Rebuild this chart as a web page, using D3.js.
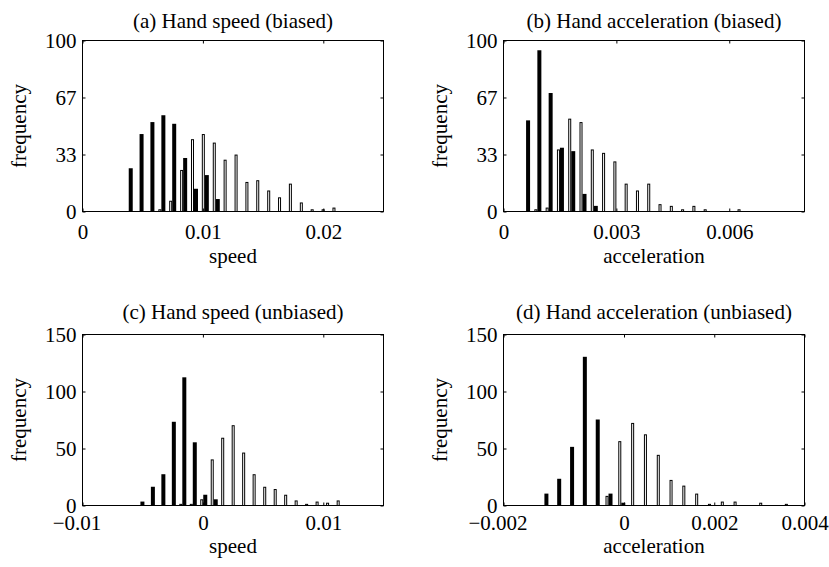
<!DOCTYPE html>
<html>
<head>
<meta charset="utf-8">
<script src="https://cdn.jsdelivr.net/npm/d3@7"></script>
<style>
  html, body { margin: 0; padding: 0; background: #fff; }
  svg { display: block; font-family: "Liberation Serif", "Times New Roman", serif; }
</style>
</head>
<body>
<svg id="chart" width="829" height="567"></svg>
<script>
// ---- (a) hand speed, biased ----
const binsA = [0.00384, 0.00474, 0.00564, 0.00655, 0.00745, 0.00836, 0.00926, 0.01016, 0.01107, 0.01197,
               0.01288, 0.01378, 0.01468, 0.01559, 0.01649, 0.01739, 0.01830, 0.01920, 0.02011, 0.02101];
const openA   = [0, 0, 0, 1, 6, 24, 42, 45, 40, 30, 33, 17, 18, 12, 8, 16, 5, 1, 1, 2];
const filledA = [25, 45, 52, 56, 51, 31, 13, 21, 7, 0, 0, 0, 0, 0, 0, 0, 0, 0, 0, 0];
const xTicksA = [0, 0.01, 0.02];
const xLabelsA = ["0", "0.01", "0.02"];

// ---- (b) hand acceleration, biased ----
const binsB = [0.0006, 0.0009, 0.0012, 0.0015, 0.0018, 0.0021, 0.0024, 0.0027, 0.0030, 0.0033,
               0.0036, 0.0039, 0.0042, 0.0045, 0.0048, 0.0051, 0.0054, 0.0057, 0.0060, 0.0063];
const openB   = [0, 1, 2, 36, 54, 52, 36, 34, 29, 16, 12, 16, 4, 3, 1, 3, 1, 0, 0, 1];
const filledB = [53, 94, 69, 37, 35, 10, 3, 0, 0, 0, 0, 0, 0, 0, 0, 0, 0, 0, 0, 0];
const xTicksB = [0, 0.003, 0.006];
const xLabelsB = ["0", "0.003", "0.006"];

// ---- (c) hand speed, unbiased ----
const binsC = [-0.00519, -0.00432, -0.00345, -0.00258, -0.00171, -0.00084, 0.00003, 0.00090, 0.00177, 0.00264,
               0.00351, 0.00438, 0.00526, 0.00613, 0.00700, 0.00787, 0.00874, 0.00961, 0.01048, 0.01136];
const openC   = [0, 0, 0, 0, 1, 1, 5, 40, 59, 70, 46, 27, 16, 14, 9, 4, 1, 3, 2, 4];
const filledC = [3, 16, 27, 73, 112, 55, 9, 5, 0, 0, 0, 0, 0, 0, 0, 0, 0, 0, 0, 0];
const xTicksC = [-0.01, 0, 0.01];
const xLabelsC = ["\u22120.01", "0", "0.01"];

// ---- (d) hand acceleration, unbiased ----
const binsD = [-0.001321, -0.001109, -0.000895, -0.000683, -0.000469, -0.000257, -0.000045, 0.000225, 0.000508, 0.000793,
               0.001076, 0.001359, 0.001644, 0.001927, 0.002212, 0.002495, 0.002778, 0.003063, 0.003346, 0.003631];
const openD   = [0, 0, 0, 0, 0, 8, 56, 72, 62, 44, 22, 17, 10, 1, 3, 3, 0, 2, 0, 1];
const filledD = [10, 23, 51, 130, 75, 10, 2, 0, 0, 0, 0, 0, 0, 0, 0, 0, 0, 0, 0, 0];
const xTicksD = [-0.002, 0, 0.002, 0.004];
const xLabelsD = ["\u22120.002", "0", "0.002", "0.004"];

// shared frequency axes
const yTicksTop = [0, 33.33, 66.67, 100];
const yLabelsTop = ["0", "33", "67", "100"];
const yTicksBottom = [0, 50, 100, 150];
const yLabelsBottom = ["0", "50", "100", "150"];

const W = 301, H = 171;
// per-row text offsets: [tick padding, x-label baseline below axes, title baseline above axes]
const rowTop = { pad: 13, xlab: 51, title: 12.5 };
const rowBottom = { pad: 10, xlab: 47, title: 15.5 };

const panels = [
  { title: "(a) Hand speed (biased)", xlabel: "speed", left: 82.5, top: 40.5, row: rowTop,
    bins: binsA, open: openA, filled: filledA, xDomain: [0, 0.025], xRange: [0, W],
    xTicks: xTicksA, xLabels: xLabelsA, yMax: 100, yTicks: yTicksTop, yLabels: yLabelsTop },
  { title: "(b) Hand acceleration (biased)", xlabel: "acceleration", left: 503.5, top: 40.5, row: rowTop,
    bins: binsB, open: openB, filled: filledB, xDomain: [0, 0.008], xRange: [0, W],
    xTicks: xTicksB, xLabels: xLabelsB, yMax: 100, yTicks: yTicksTop, yLabels: yLabelsTop },
  { title: "(c) Hand speed (unbiased)", xlabel: "speed", left: 82.5, top: 334.5, row: rowBottom,
    bins: binsC, open: openC, filled: filledC, xDomain: [-0.01, 0.015], xRange: [0, W],
    xTicks: xTicksC, xLabels: xLabelsC, yMax: 150, yTicks: yTicksBottom, yLabels: yLabelsBottom },
  { title: "(d) Hand acceleration (unbiased)", xlabel: "acceleration", left: 503.5, top: 334.5, row: rowBottom,
    bins: binsD, open: openD, filled: filledD, xDomain: [-0.002, 0, 0.004], xRange: [0, 120.5, W],
    xTicks: xTicksD, xLabels: xLabelsD, yMax: 150, yTicks: yTicksBottom, yLabels: yLabelsBottom }
];

const svg = d3.select("#chart");
const FS = 21;

panels.forEach(p => {
  const g = svg.append("g").attr("transform", `translate(${p.left},${p.top})`);
  const x = d3.scaleLinear().domain(p.xDomain).range(p.xRange);
  const y = d3.scaleLinear().domain([0, p.yMax]).range([H, 0]);

  // open bars sit just left of each bin centre, filled bars just right
  g.selectAll("rect.open")
    .data(p.bins.map((b, i) => ({ b, v: p.open[i] })).filter(d => d.v > 0))
    .join("rect")
    .attr("class", "open")
    .attr("x", d => x(d.b) - 2.5)
    .attr("width", 2)
    .attr("y", d => y(d.v))
    .attr("height", d => H - y(d.v))
    .attr("fill", "#fff")
    .attr("stroke", "#000")
    .attr("stroke-width", 1);

  g.selectAll("rect.filled")
    .data(p.bins.map((b, i) => ({ b, v: p.filled[i] })).filter(d => d.v > 0))
    .join("rect")
    .attr("class", "filled")
    .attr("x", d => x(d.b))
    .attr("width", 4)
    .attr("y", d => y(d.v) - 0.5)
    .attr("height", d => H - y(d.v) + 0.5)
    .attr("fill", "#000");

  // axes with inward ticks on all four sides
  const fmtX = (d, i) => p.xLabels[i];
  const fmtY = (d, i) => p.yLabels[i];
  const styleAxis = sel => {
    sel.select(".domain").remove();
    sel.selectAll("line").attr("stroke", "#000").attr("stroke-width", 1);
    sel.selectAll("text").attr("font-size", FS).attr("fill", "#000")
       .attr("font-family", "Liberation Serif, Times New Roman, serif");
  };
  const xAxisG = g.append("g").attr("transform", `translate(0,${H})`)
    .call(d3.axisBottom(x).tickValues(p.xTicks).tickFormat(fmtX).tickSizeInner(-3).tickSizeOuter(0).tickPadding(p.row.pad))
    .call(styleAxis);
  // negative labels: keep the digits centred on the tick, the minus sign hangs to the left
  xAxisG.selectAll("text").each(function () {
    const t = d3.select(this);
    const s = t.text();
    if (s.startsWith("\u2212")) {
      const full = this.getComputedTextLength();
      t.text(s.slice(1));
      const rest = this.getComputedTextLength();
      t.text(s).attr("dx", -(full - rest) / 2);
    }
  });
  g.append("g")
    .call(d3.axisTop(x).tickValues(p.xTicks).tickFormat("").tickSizeInner(-3).tickSizeOuter(0))
    .call(styleAxis);
  g.append("g")
    .call(d3.axisLeft(y).tickValues(p.yTicks).tickFormat(fmtY).tickSizeInner(-3).tickSizeOuter(0).tickPadding(6))
    .call(styleAxis);
  g.append("g").attr("transform", `translate(${W},0)`)
    .call(d3.axisRight(y).tickValues(p.yTicks).tickFormat("").tickSizeInner(-3).tickSizeOuter(0))
    .call(styleAxis);

  // frame
  g.append("rect")
    .attr("x", 0).attr("y", 0).attr("width", W).attr("height", H)
    .attr("fill", "none").attr("stroke", "#000").attr("stroke-width", 1);

  // title and axis labels
  g.append("text")
    .attr("x", W / 2).attr("y", -p.row.title)
    .attr("text-anchor", "middle").attr("font-size", FS)
    .text(p.title);
  g.append("text")
    .attr("x", W / 2).attr("y", H + p.row.xlab)
    .attr("text-anchor", "middle").attr("font-size", FS)
    .text(p.xlabel);
  g.append("text")
    .attr("transform", `translate(-57,${H / 2}) rotate(-90)`)
    .attr("text-anchor", "middle").attr("font-size", FS)
    .text("frequency");
});
</script>
</body>
</html>
